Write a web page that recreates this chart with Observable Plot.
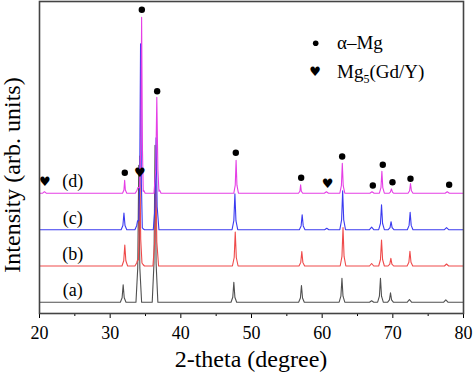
<!DOCTYPE html>
<html><head><meta charset="utf-8">
<script src="https://cdn.jsdelivr.net/npm/d3@7"></script>
<script src="https://cdn.jsdelivr.net/npm/@observablehq/plot@0.6"></script>
<style>body{margin:0;background:#fff} svg{display:block}</style>
</head><body><div id="chart"></div>
<script>
// ---- data ----
const samples = ["(a)", "(b)", "(c)", "(d)"];
const offsets = [11.3, 47.5, 83.8, 120.3];           // vertical stacking of patterns
const colors = ["#505050", "#ef4a4a", "#3b3bf0", "#e53fe5"];

// [2-theta, intensity above own baseline]
const patternA = [[20,0],
  [31.44,0],[31.69,4.4],[31.84,17.5],[31.99,4.4],[32.24,0],
  [33.65,0],[33.9,34],[34.05,137],[34.2,34],[34.45,0],
  [35.95,0],[36.2,39],[36.35,157],[36.5,39],[36.75,0],
  [47.1,0],[47.35,5],[47.5,20],[47.65,5],[47.9,0],
  [56.67,0],[56.92,4.2],[57.07,16.7],[57.22,4.2],[57.47,0],
  [62.4,0],[62.65,6],[62.8,24],[62.95,6],[63.2,0],
  [66.7,0],[67.0,1.5],[67.3,0],
  [67.85,0],[68.1,6],[68.25,24],[68.4,6],[68.65,0],
  [69.27,0],[69.52,2.4],[69.67,9.4],[69.82,2.4],[70.07,0],
  [72.05,0],[72.35,2.7],[72.65,0],
  [77.2,0],[77.5,2.4],[77.8,0],
  [80,0]];
const patternB = [[20,0],
  [31.67,0],[31.92,5.2],[32.07,21],[32.22,5.2],[32.47,0],
  [33.5,0],[33.75,3],[33.88,6],[34.0,6],[34.08,27],[34.2,110],[34.32,27],[34.5,3],[34.65,1.5],[34.85,0],
  [36.05,0],[36.3,24],[36.45,95],[36.6,24],[36.85,0],
  [47.3,0],[47.55,8.5],[47.7,34],[47.85,8.5],[48.1,0],
  [56.72,0],[56.97,3.6],[57.12,14.5],[57.27,3.6],[57.52,0],
  [62.55,0],[62.8,9.6],[62.95,38.5],[63.1,9.6],[63.35,0],
  [66.7,0],[67.0,2.5],[67.3,0],
  [68.0,0],[68.25,6.5],[68.4,26],[68.55,6.5],[68.8,0],
  [69.32,0],[69.57,1.9],[69.72,7.7],[69.87,1.9],[70.12,0],
  [72.02,0],[72.27,3.7],[72.42,14.7],[72.57,3.7],[72.82,0],
  [77.3,0],[77.6,2],[77.9,0],
  [80,0]];
const patternC = [[20,0],
  [31.55,0],[31.8,4.2],[31.95,16.7],[32.1,4.2],[32.35,0],
  [33.5,0],[33.75,4],[33.88,9],[34.05,9],[34.18,46],[34.3,186],[34.42,46],[34.55,2],[34.65,1],[34.85,0],
  [36.1,0],[36.35,23],[36.5,92],[36.65,23],[36.9,0],
  [47.25,0],[47.5,9],[47.65,36],[47.8,9],[48.05,0],
  [56.77,0],[57.02,3.8],[57.17,15],[57.32,3.8],[57.57,0],
  [60.35,0],[60.65,1.5],[60.95,0],
  [62.5,0],[62.75,9.8],[62.9,39],[63.05,9.8],[63.3,0],
  [66.7,0],[67.0,2.5],[67.3,0],
  [68.0,0],[68.25,6.2],[68.4,25],[68.55,6.2],[68.8,0],
  [69.35,0],[69.6,2],[69.75,8],[69.9,2],[70.15,0],
  [72.05,0],[72.3,4.3],[72.45,17.3],[72.6,4.3],[72.85,0],
  [77.3,0],[77.6,2],[77.9,0],
  [80,0]];
const patternD = [[20,0],[20.45,0],[20.7,1.5],[20.95,0],
  [31.75,0],[31.95,3.2],[32.05,13],[32.15,3.2],[32.35,0],
  [33.55,0],[33.8,3],[33.92,5.6],[34.15,5.6],[34.33,44],[34.45,176],[34.57,44],[34.68,2],[34.78,2.5],[34.95,0],
  [36.2,0],[36.45,24],[36.6,96],[36.75,24],[36.9,2],[37.0,3],[37.2,0],
  [47.5,0],[47.7,8],[47.82,33],[47.94,8],[48.15,0],
  [56.65,0],[56.85,2],[56.95,8.4],[57.05,2],[57.25,0],
  [60.3,0],[60.6,1.5],[60.9,0],
  [62.5,0],[62.72,7.5],[62.85,30],[62.98,7.5],[63.2,0],
  [66.75,0],[67.05,1.5],[67.35,0],
  [68.1,0],[68.32,5.5],[68.45,22],[68.58,5.5],[68.8,0],
  [69.5,0],[69.65,1],[69.8,4.3],[69.95,1],[70.1,0],
  [72.15,0],[72.37,2.4],[72.5,9.7],[72.63,2.4],[72.85,0],
  [77.4,0],[77.7,1.5],[78.0,0],
  [80,0]];

// phase markers [2-theta, level]
const alphaMgMarks = [[32.07,140.7],[34.48,303.7],[36.65,222.3],[47.78,160.7],[57.03,135.7],
  [62.83,157],[67.17,128],[68.58,148.7],[69.95,131.3],[72.5,134.7],[77.97,128.7]];
const mg5Marks = [[20.75,131.3],[34.2,140.7],[60.75,129.7]];

const xTicks = [20, 30, 40, 50, 60, 70, 80];
const xMinorTicks = [25, 35, 45, 55, 65, 75];
const xLabel = "2-theta (degree)";
const yLabel = "Intensity (arb. units)";
const legendNames = ["α–Mg", "Mg", "5", "(Gd/Y)"];

// ---- build table ----
const rows = [];
[patternA, patternB, patternC, patternD].forEach((p, i) =>
  p.forEach(([t, v]) => rows.push({sample: samples[i], theta: t, value: v + offsets[i]})));
const labelRows = samples.map((s, i) => ({s, theta: 24.7, value: offsets[i] + 11.5}));

const serif = "'Liberation Serif', 'Times New Roman', serif";
const plot = Plot.plot({
  width: 474, height: 376,
  marginLeft: 39, marginRight: 11, marginTop: 1, marginBottom: 63,
  style: {fontFamily: serif, fontSize: "18px", color: "#000", background: "#fff"},
  x: {domain: [20, 80]},
  y: {domain: [0, 312], axis: null},
  color: {domain: samples, range: colors},
  marks: [
    Plot.line(rows, {x: "theta", y: "value", z: "sample", stroke: "sample", strokeWidth: 1.1}),
    Plot.dot(alphaMgMarks, {x: d => d[0], y: d => d[1], r: 3.2, fill: "#000", stroke: null}),
    Plot.text(mg5Marks, {x: d => d[0], y: d => d[1], text: () => "♥", fontSize: 13, fontFamily: "DejaVu Sans", fill: "#000"}),
    Plot.text(labelRows, {x: "theta", y: "value", text: "s", fontSize: 18, fontFamily: serif, fill: "#000"}),
    Plot.axisX({ticks: xTicks, tickSize: 5, tickPadding: 8, fontSize: 18, fontFamily: serif, label: null}),
    Plot.axisX({ticks: xMinorTicks, tickSize: 3, tickFormat: () => "", label: null}),
    Plot.frame({stroke: "#444", strokeWidth: 1.6})
  ]
});

const svg = d3.select(plot);
// force serif 18px on numeric tick labels
svg.selectAll("text").filter(function() { return /^\d+$/.test(this.textContent.trim()); })
  .style("font-size", "18px").style("font-family", serif).style("fill", "#000");
svg.selectAll("g").filter(function() { return /^\d+$/.test(this.textContent.trim()) === false && (this.getAttribute("aria-label") || "").includes("tick label"); })
  .style("font-size", "18px").style("font-family", serif);

const add = () => svg.append("text").attr("fill", "#000").attr("font-family", serif).attr("text-anchor", "start");
add().attr("transform", "translate(20,175) rotate(-90)")
  .attr("text-anchor", "middle").attr("font-size", 24).text(yLabel);
add().attr("x", 251).attr("y", 367)
  .attr("text-anchor", "middle").attr("font-size", 24).text(xLabel);
svg.append("circle").attr("cx", 315.7).attr("cy", 43.3).attr("r", 2.8).attr("fill", "#000");
add().attr("x", 337).attr("y", 49.3).attr("font-size", 19).text(legendNames[0]);
add().attr("x", 315).attr("y", 71.7).attr("text-anchor", "middle").attr("dominant-baseline", "central")
  .attr("font-size", 13).attr("font-family", "DejaVu Sans").text("♥");
const t = add().attr("x", 337).attr("y", 78.3).attr("font-size", 19);
t.append("tspan").text(legendNames[1]);
t.append("tspan").attr("font-size", 12).attr("dy", 5).text(legendNames[2]);
t.append("tspan").attr("dy", -5).text(legendNames[3]);

document.getElementById("chart").appendChild(plot);
</script>
</body></html>
